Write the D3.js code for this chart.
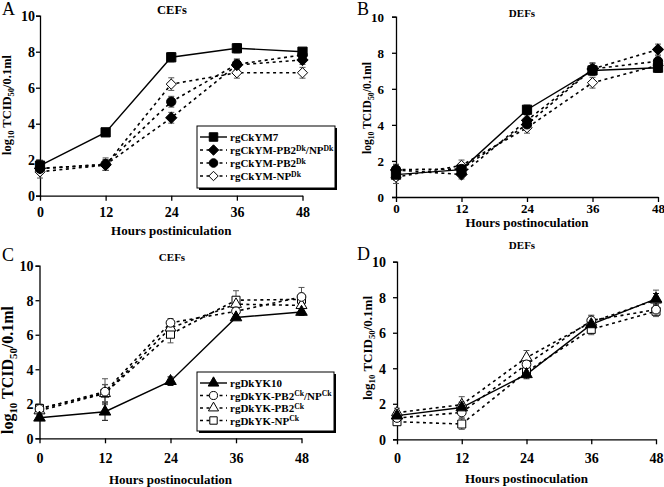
<!DOCTYPE html>
<html><head><meta charset="utf-8">
<script src="https://cdn.jsdelivr.net/npm/d3@7"></script>
<style>body{margin:0;background:#fff} svg text{font-family:"Liberation Serif","Times New Roman","DejaVu Serif",serif !important}</style>
</head><body><svg id="c" width="664" height="487" style="font-family:'Liberation Serif',serif"></svg>
<script>
// ---------- data ----------
const hours = [0, 12, 24, 36, 48];
const yTicks = [0, 2, 4, 6, 8, 10];

const labelsCk = ["rgCkYM7", "rgCkYM-PB2^Dk/NP^Dk", "rgCkYM-PB2^Dk", "rgCkYM-NP^Dk"];
const labelsDk = ["rgDkYK10", "rgDkYK-PB2^Ck/NP^Ck", "rgDkYK-PB2^Ck", "rgDkYK-NP^Ck"];

// Panel A (CEFs)
const A_YM7   = [1.67, 3.52, 7.69, 8.19, 8.00];
const A_YM7e  = [0.30, 0.10, 0.25, 0.25, 0.15];
const A_PB2NP = [1.52, 1.72, 4.33, 7.26, 7.54];
const A_PB2NPe= [0.30, 0.30, 0.30, 0.30, 0.25];
const A_PB2   = [1.50, 1.75, 5.22, 7.30, 7.82];
const A_PB2e  = [0.20, 0.35, 0.30, 0.30, 0.20];
const A_NP    = [1.33, 1.70, 6.20, 6.83, 6.83];
const A_NPe   = [0.35, 0.30, 0.35, 0.30, 0.30];
// Panel B (DEFs)
const B_YM7   = [1.24, 1.52, 4.84, 7.02, 7.17];
const B_YM7e  = [0.30, 0.20, 0.25, 0.25, 0.25];
const B_PB2NP = [1.50, 1.25, 4.25, 7.10, 8.18];
const B_PB2NPe= [0.30, 0.25, 0.30, 0.35, 0.30];
const B_PB2   = [1.52, 1.55, 4.03, 7.10, 7.53];
const B_PB2e  = [0.30, 0.30, 0.30, 0.30, 0.30];
const B_NP    = [1.10, 1.75, 3.84, 6.34, 7.30];
const B_NPe   = [0.35, 0.30, 0.30, 0.30, 0.30];
// Panel C (CEFs)
const C_YK10  = [1.19, 1.54, 3.31, 7.00, 7.32];
const C_YK10e = [0.15, 0.50, 0.25, 0.10, 0.20];
const C_PB2NP = [1.70, 2.70, 6.69, 7.36, 8.19];
const C_PB2NPe= [0.20, 0.75, 0.25, 0.30, 0.55];
const C_PB2   = [1.60, 2.60, 6.40, 7.77, 7.70];
const C_PB2e  = [0.20, 0.50, 0.30, 0.30, 0.30];
const C_NP    = [1.73, 2.62, 6.03, 8.00, 8.05];
const C_NPe   = [0.25, 0.50, 0.50, 0.55, 0.35];
// Panel D (DEFs)
const D_YK10  = [1.33, 1.79, 3.66, 6.47, 7.91];
const D_YK10e = [0.20, 0.30, 0.25, 0.30, 0.30];
const D_PB2NP = [1.20, 1.51, 4.22, 6.69, 7.30];
const D_PB2NPe= [0.30, 0.30, 0.40, 0.30, 0.25];
const D_PB2   = [1.50, 1.95, 4.60, 6.60, 7.85];
const D_PB2e  = [0.25, 0.45, 0.40, 0.35, 0.55];
const D_NP    = [0.99, 0.86, 3.80, 6.19, 7.21];
const D_NPe   = [0.20, 0.30, 0.30, 0.30, 0.30];

// ---------- styles ----------
const symDiamond = {
  draw(ctx, size) {
    const r = Math.sqrt(size / 2);
    ctx.moveTo(0, -r); ctx.lineTo(r, 0); ctx.lineTo(0, r); ctx.lineTo(-r, 0); ctx.closePath();
  }
};
const DASH = "3,3.5";
const stylesCk = [
  {shape: d3.symbolSquare, size: 85, fill: "#000", dash: null},
  {shape: symDiamond, size: 64, fill: "#000", dash: DASH},
  {shape: d3.symbolCircle, size: 68, fill: "#000", dash: DASH},
  {shape: symDiamond, size: 52, fill: "#fff", dash: DASH}
];
const stylesDk = [
  {shape: d3.symbolTriangle, size: 58, fill: "#000", dash: null},
  {shape: d3.symbolCircle, size: 60, fill: "#fff", dash: DASH},
  {shape: d3.symbolTriangle, size: 52, fill: "#fff", dash: DASH},
  {shape: d3.symbolSquare, size: 64, fill: "#fff", dash: DASH}
];

const panels = [
  {letter: "A", lx: 2, ly: 15, title: "CEFs", tx: 172, ty: 14, tfs: 12.5, tkfs: 14,
   x0: 40, x1: 302.5, yT: 15.7, yB: 195.7, tickY: 217, xtitle: "Hours postiniculation", xtY: 235,
   ylx: 11, yly: 105, ylfs: 12.5, ylGap: 5,
   series: [[A_YM7, A_YM7e], [A_PB2NP, A_PB2NPe], [A_PB2, A_PB2e], [A_NP, A_NPe]],
   labels: labelsCk, styles: stylesCk, legend: {x: 197, y: 126, w: 138, h: 62, rows: [137, 150, 163, 176]}},
  {letter: "B", lx: 357, ly: 15, title: "DEFs", tx: 522, ty: 17, tfs: 11, tkfs: 13,
   x0: 396, x1: 658, yT: 16.7, yB: 197, tickY: 213, xtitle: "Hours postinoculation", xtY: 227,
   ylx: 371, yly: 108, ylfs: 11.5, ylGap: 12,
   series: [[B_YM7, B_YM7e], [B_PB2NP, B_PB2NPe], [B_PB2, B_PB2e], [B_NP, B_NPe]],
   labels: labelsCk, styles: stylesCk, legend: null},
  {letter: "C", lx: 2, ly: 261, title: "CEFs", tx: 172, ty: 261, tfs: 11, tkfs: 14,
   x0: 39.5, x1: 301.5, yT: 265.7, yB: 438.3, tickY: 463, xtitle: "Hours postinoculation", xtY: 484,
   ylx: 13, yly: 370, ylfs: 16, ylGap: 6,
   series: [[C_YK10, C_YK10e], [C_PB2NP, C_PB2NPe], [C_PB2, C_PB2e], [C_NP, C_NPe]],
   labels: labelsDk, styles: stylesDk, legend: {x: 197, y: 372, w: 137, h: 59, rows: [383, 395.5, 408, 420.5]}},
  {letter: "D", lx: 357, ly: 260, title: "DEFs", tx: 522, ty: 249, tfs: 11, tkfs: 14,
   x0: 397, x1: 656, yT: 261.7, yB: 439.3, tickY: 463, xtitle: "Hours postinoculation", xtY: 483,
   ylx: 372, yly: 348, ylfs: 13, ylGap: 11,
   series: [[D_YK10, D_YK10e], [D_PB2NP, D_PB2NPe], [D_PB2, D_PB2e], [D_NP, D_NPe]],
   labels: labelsDk, styles: stylesDk, legend: null}
];

const FONT = "'Liberation Serif', 'Times New Roman', serif";
const svg = d3.select("#c");

function addRich(textSel, str, fs) {
  const re = /\^([A-Za-z]+)/g;
  let last = 0, m;
  const parts = [];
  while ((m = re.exec(str)) !== null) {
    if (m.index > last) parts.push({t: str.slice(last, m.index), sup: false});
    parts.push({t: m[1], sup: true});
    last = re.lastIndex;
  }
  if (last < str.length) parts.push({t: str.slice(last), sup: false});
  let prevSup = false;
  parts.forEach(p => {
    const ts = textSel.append("tspan").text(p.t);
    if (p.sup && !prevSup) ts.attr("dy", -3.5);
    else if (!p.sup && prevSup) ts.attr("dy", 3.5);
    if (p.sup) ts.attr("font-size", fs * 0.7);
    prevSup = p.sup;
  });
}

panels.forEach(p => {
  const g = svg.append("g").attr("font-family", FONT);
  const x = d3.scaleLinear().domain([0, 48]).range([p.x0, p.x1]);
  const y = d3.scaleLinear().domain([0, 10]).range([p.yB, p.yT]);

  const yAxis = d3.axisLeft(y).tickValues(yTicks).tickSize(4).tickFormat(d3.format("d"));
  const ya = g.append("g").attr("transform", `translate(${p.x0},0)`).call(yAxis).attr("font-family", FONT);
  ya.select(".domain").attr("stroke-width", 1.3);
  ya.selectAll(".tick line").attr("stroke-width", 1.3);
  ya.selectAll("text").attr("font-weight", "bold")
    .attr("font-size", p.tkfs).attr("fill", "#000").attr("x", -p.ylGap).attr("dy", "0.35em");

  const xAxis = d3.axisBottom(x).tickValues(hours).tickSize(5).tickSizeOuter(0).tickFormat(d3.format("d"));
  const xa = g.append("g").attr("transform", `translate(0,${p.yB})`).call(xAxis).attr("font-family", FONT);
  xa.select(".domain").attr("stroke-width", 1.3);
  xa.selectAll(".tick line").attr("stroke-width", 1.3);
  xa.selectAll("text").attr("font-weight", "bold")
    .attr("font-size", p.tkfs).attr("fill", "#000").attr("y", p.tickY - p.yB).attr("dy", "0");

  g.append("text").attr("x", p.lx).attr("y", p.ly).attr("font-size", 18).text(p.letter);
  g.append("text").attr("x", p.tx).attr("y", p.ty).attr("text-anchor", "middle")
    .attr("font-weight", "bold").attr("font-size", p.tfs).text(p.title);
  g.append("text").attr("x", (p.x0 + p.x1) / 2).attr("y", p.xtY).attr("text-anchor", "middle")
    .attr("font-weight", "bold").attr("font-size", 13).text(p.xtitle);

  const fs = p.ylfs, sfs = fs * 0.68;
  const yl = g.append("text").attr("transform", `translate(${p.ylx},${p.yly}) rotate(-90)`)
    .attr("text-anchor", "middle").attr("font-weight", "bold").attr("font-size", fs);
  yl.append("tspan").text("log");
  yl.append("tspan").attr("font-size", sfs).attr("dy", fs * 0.22).text("10");
  yl.append("tspan").attr("dy", -fs * 0.22).text(" TCID");
  yl.append("tspan").attr("font-size", sfs).attr("dy", fs * 0.22).text("50");
  yl.append("tspan").attr("dy", -fs * 0.22).text("/0.1ml");

  const line = d3.line().x((d, i) => x(hours[i])).y(d => y(d));

  const order = [3, 2, 1, 0];
  order.forEach(si => {
    const [vals] = p.series[si];
    const st = p.styles[si];
    g.append("path").datum(vals).attr("d", line).attr("fill", "none").attr("stroke", "#000")
      .attr("stroke-width", st.dash ? 1.6 : 1.4).attr("stroke-dasharray", st.dash);
  });
  order.forEach(si => {
    const [vals, errs] = p.series[si];
    vals.forEach((v, i) => {
      const cx = x(hours[i]);
      const y1 = y(v + errs[i]), y2 = y(v - errs[i]);
      const col = si === 0 ? "#111" : "#555";
      g.append("line").attr("x1", cx).attr("x2", cx).attr("y1", y1).attr("y2", y2).attr("stroke", col).attr("stroke-width", 1);
      [y1, y2].forEach(yy => g.append("line").attr("x1", cx - 3).attr("x2", cx + 3).attr("y1", yy).attr("y2", yy).attr("stroke", col).attr("stroke-width", 1));
    });
  });
  order.forEach(si => {
    const [vals] = p.series[si];
    const st = p.styles[si];
    const sym = d3.symbol().type(st.shape).size(st.size);
    g.selectAll(null).data(vals).enter().append("path").attr("d", sym)
      .attr("transform", (d, i) => `translate(${x(hours[i])},${y(d)})`)
      .attr("fill", st.fill).attr("stroke", "#000").attr("stroke-width", 1);
  });

  if (p.legend) {
    const L = p.legend;
    g.append("rect").attr("x", L.x + 2).attr("y", L.y + 2).attr("width", L.w).attr("height", L.h).attr("fill", "#000");
    g.append("rect").attr("x", L.x).attr("y", L.y).attr("width", L.w).attr("height", L.h)
      .attr("fill", "#fff").attr("stroke", "#000").attr("stroke-width", 1);
    p.labels.forEach((lab, i) => {
      const st = p.styles[i];
      const ry = L.rows[i];
      g.append("line").attr("x1", L.x + 3).attr("x2", L.x + 30).attr("y1", ry).attr("y2", ry)
        .attr("stroke", "#000").attr("stroke-width", st.dash ? 1.5 : 1.4).attr("stroke-dasharray", st.dash);
      g.append("path").attr("d", d3.symbol().type(st.shape).size(st.size * 0.85)())
        .attr("transform", `translate(${L.x + 16.5},${ry})`).attr("fill", st.fill).attr("stroke", "#000");
      const t = g.append("text").attr("x", L.x + 33).attr("y", ry + 4).attr("font-weight", "bold").attr("font-size", 11);
      addRich(t, lab, 11);
    });
  }
});
</script></body></html>
